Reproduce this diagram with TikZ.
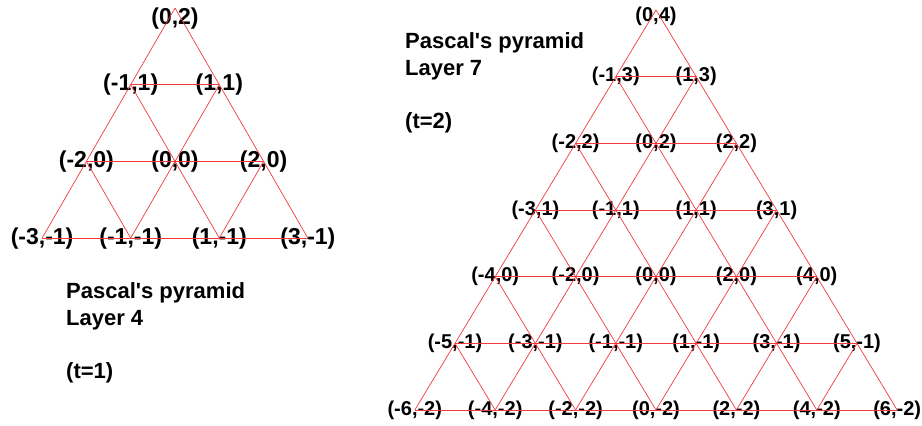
\documentclass[tikz,border=0pt]{standalone}
\usepackage{fontspec}
\setmainfont{Liberation Sans}
\usepackage{xcolor}
\usepackage{tikz}
\usetikzlibrary{positioning}
\definecolor{gridred}{HTML}{F23A3A}
\definecolor{labelink}{HTML}{000000}
\tikzset{
    gridline/.style={
        draw=gridred, line width=0.7pt
    },
    vertexlabel/.style={
        text=labelink, inner sep=0pt,
        font=\fontsize{20}{24}\selectfont\bfseries
    },
    bigvertexlabel/.style={
        text=labelink, inner sep=0pt,
        font=\fontsize{23}{27}\selectfont\bfseries
    },
    titletext/.style={
        text=labelink, inner sep=0pt, align=left, anchor=base west,
        font=\fontsize{22}{26.5}\selectfont\bfseries
    },
}

\begin{document}
\begin{tikzpicture}[x=1pt, y=-1pt]
    \useasboundingbox (0,0) rectangle (922,426);
    % layer 4: lattice points and labels
    \foreach \r in {0,...,3}{
        \foreach \k in {0,...,\r}{
            \pgfmathsetmacro\px{175+(2*\k-\r)*44.3}
            \pgfmathsetmacro\py{8+\r*76.7}
            \pgfmathtruncatemacro\a{2*\k-\r}
            \pgfmathtruncatemacro\b{2-\r}
            \coordinate (lp-\r-\k) at (\px,\py);
            \ifnum\r=0
                \node[bigvertexlabel, yshift=-11pt] (lt-\r-\k) at (lp-\r-\k) {(\a,\b)};
            \else
                \node[bigvertexlabel] (lt-\r-\k) at (lp-\r-\k) {(\a,\b)};
            \fi
        }
    }
    \foreach \d in {0,...,2}{
        \pgfmathtruncatemacro\e{3-\d}
        \draw[gridline] (lp-\d-0) -- (lp-3-\e);
        \draw[gridline] (lp-\d-\d) -- (lp-3-\d);
    }
    \foreach \r in {1,...,3}
        \draw[gridline] (lp-\r-0) -- (lp-\r-\r);
    % anchor is the baseline of the last line
    \node[titletext] (title4) at (66,378) {Pascal\textquotesingle s pyramid\\Layer 4\\[26.5pt](t=1)};

    % layer 7: lattice points and labels
    \foreach \r in {0,...,6}{
        \foreach \k in {0,...,\r}{
            \pgfmathsetmacro\px{656+(2*\k-\r)*40.2}
            \pgfmathsetmacro\py{10+\r*66.67}
            \pgfmathtruncatemacro\a{2*\k-\r}
            \pgfmathtruncatemacro\b{4-\r}
            \coordinate (rp-\r-\k) at (\px,\py);
            \ifnum\r=0
                \node[vertexlabel, yshift=-6pt] (rt-\r-\k) at (rp-\r-\k) {(\a,\b)};
            \else
                \node[vertexlabel] (rt-\r-\k) at (rp-\r-\k) {(\a,\b)};
            \fi
        }
    }
    \foreach \d in {0,...,5}{
        \pgfmathtruncatemacro\e{6-\d}
        \draw[gridline] (rp-\d-0) -- (rp-6-\e);
        \draw[gridline] (rp-\d-\d) -- (rp-6-\d);
    }
    \foreach \r in {1,...,6}
        \draw[gridline] (rp-\r-0) -- (rp-\r-\r);
    \node[titletext] (title7) at (405,128) {Pascal\textquotesingle s pyramid\\Layer 7\\[26.5pt](t=2)};
\end{tikzpicture}
\end{document}
